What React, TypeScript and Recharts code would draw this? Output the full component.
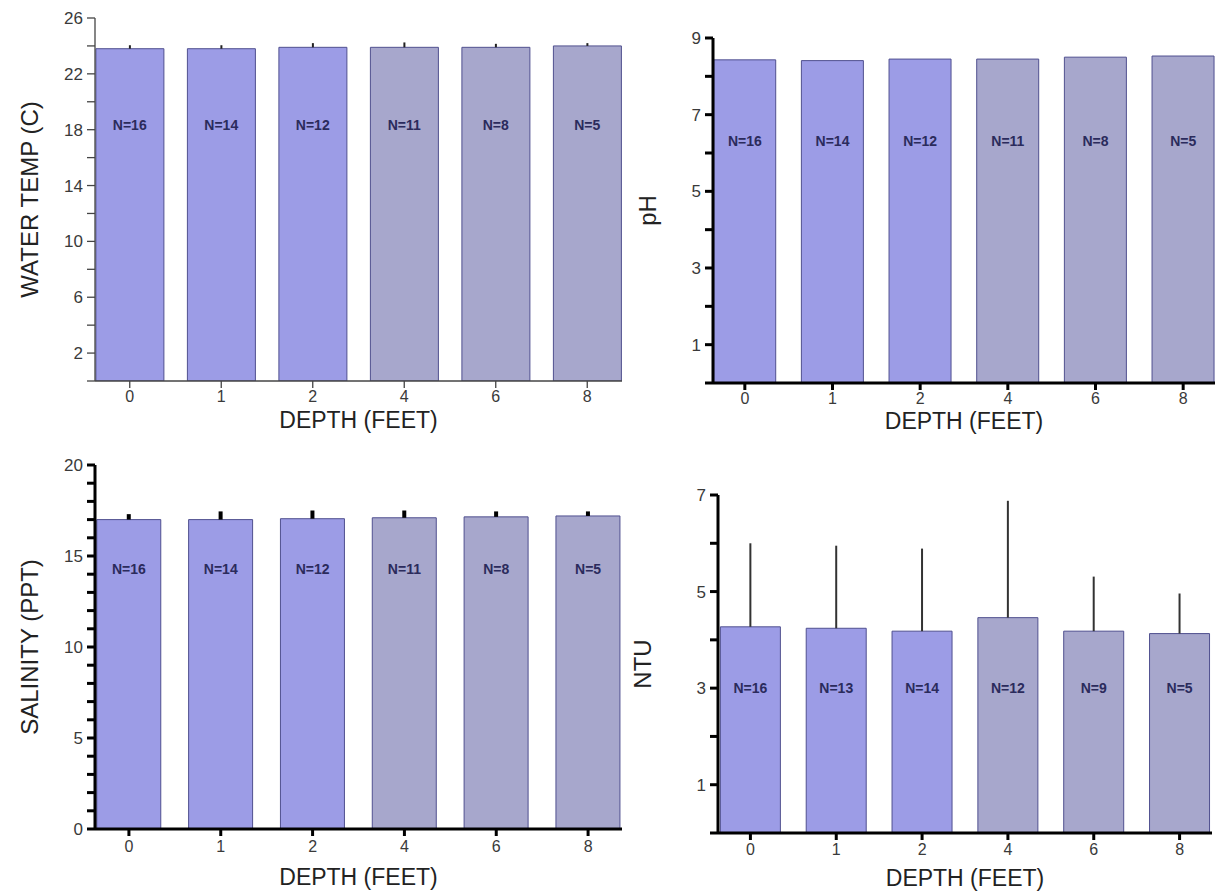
import React from 'react';
import { BarChart, Bar, XAxis, YAxis, Cell, ErrorBar, ReferenceDot, Label } from 'recharts';

const depths = ['0', '1', '2', '4', '6', '8'];

const tempMeans = [23.8, 23.8, 23.9, 23.9, 23.9, 24.0];
const tempErr = [0.25, 0.25, 0.3, 0.35, 0.25, 0.2];
const tempN = [16, 14, 12, 11, 8, 5];
const tempTicks = [0, 2, 4, 6, 8, 10, 12, 14, 16, 18, 20, 22, 24, 26];
const tempLabels = [2, 6, 10, 14, 18, 22, 26];

const phMeans = [8.43, 8.41, 8.45, 8.45, 8.5, 8.53];
const phErr = [0, 0, 0, 0, 0, 0];
const phN = [16, 14, 12, 11, 8, 5];
const phTicks = [0, 1, 2, 3, 4, 5, 6, 7, 8, 9];
const phLabels = [1, 3, 5, 7, 9];

const salMeans = [17.0, 17.0, 17.05, 17.1, 17.15, 17.2];
const salErr = [0.3, 0.45, 0.45, 0.4, 0.3, 0.25];
const salN = [16, 14, 12, 11, 8, 5];
const salTicks = [0, 1, 2, 3, 4, 5, 6, 7, 8, 9, 10, 11, 12, 13, 14, 15, 16, 17, 18, 19, 20];
const salLabels = [0, 5, 10, 15, 20];

const ntuMeans = [4.27, 4.24, 4.18, 4.46, 4.18, 4.13];
const ntuErr = [1.73, 1.71, 1.71, 2.42, 1.13, 0.83];
const ntuN = [16, 13, 14, 12, 9, 5];
const ntuTicks = [0, 1, 2, 3, 4, 5, 6, 7];
const ntuLabels = [1, 3, 5, 7];

const barColors = ['#9c9ce6', '#9c9ce6', '#9c9ce6', '#a7a7cc', '#a7a7cc', '#a7a7cc'];
const font = '"Liberation Sans", Arial, sans-serif';

const makeRows = (means: number[], errs: number[], ns: number[]) =>
  depths.map((d, i) => ({ depth: d, mean: means[i], err: [0, errs[i]], n: ns[i] }));

type PanelProps = {
  left: number; top: number; width: number; height: number;
  margin: { top: number; right: number; bottom: number; left: number };
  yWidth: number; xHeight: number;
  domain: [number, number]; ticks: number[]; labels: number[];
  means: number[]; errs: number[]; ns: number[]; nY: number;
  pad: number; gap: string;
  axisColor: string; axisWidth: number;
  errColor: string; errWidth: number; showErr: boolean;
  yTitle: string; yTitleX: number;
  tickDy: number; xTitleDy: number;
};

function Panel(p: PanelProps) {
  const rows = makeRows(p.means, p.errs, p.ns);
  const yTick = (t: any) =>
    p.labels.includes(t.payload.value) ? (
      <text x={t.x} y={t.y} dy={6} textAnchor="end" fontSize={17} fill="#3a3a3a" fontFamily={font}>
        {t.payload.value}
      </text>
    ) : <g />;
  const xTick = (t: any) => (
    <text x={t.x} y={t.y} dy={p.tickDy} textAnchor="middle" fontSize={16} fill="#3a3a3a" fontFamily={font}>
      {t.payload.value}
    </text>
  );
  return (
    <div style={{ position: 'absolute', left: p.left, top: p.top }}>
      <BarChart width={p.width} height={p.height} data={rows} margin={p.margin} barCategoryGap={p.gap}>
        <XAxis
          dataKey="depth"
          height={p.xHeight}
          padding={{ left: -p.pad, right: -p.pad }}
          axisLine={{ stroke: p.axisColor, strokeWidth: p.axisWidth }}
          tickLine={{ stroke: p.axisColor, strokeWidth: p.axisWidth }}
          tickSize={7}
          tickMargin={2}
          tick={xTick}
          interval={0}
        >
          <Label
            content={(lp: any) => (
              <text x={lp.viewBox.x + lp.viewBox.width / 2} y={lp.viewBox.y + p.xTitleDy} textAnchor="middle"
                fontSize={23} fill="#222" fontFamily={font}>DEPTH (FEET)</text>
            )}
          />
        </XAxis>
        <YAxis
          type="number"
          domain={p.domain}
          ticks={p.ticks}
          width={p.yWidth}
          allowDataOverflow
          axisLine={{ stroke: p.axisColor, strokeWidth: p.axisWidth }}
          tickLine={{ stroke: p.axisColor, strokeWidth: p.axisWidth }}
          tickSize={8}
          tickMargin={4}
          tick={yTick}
          interval={0}
        >
          <Label
            content={(lp: any) => {
              const cy = lp.viewBox.y + lp.viewBox.height / 2;
              return (
                <text x={p.yTitleX} y={cy} textAnchor="middle" fontSize={24} fill="#222" fontFamily={font}
                  transform={`rotate(-90 ${p.yTitleX} ${cy})`} dy={8}>{p.yTitle}</text>
              );
            }}
          />
        </YAxis>
        <Bar dataKey="mean" stroke="#50508f" strokeWidth={1} isAnimationActive={false}>
          {rows.map((r, i) => <Cell key={r.depth} fill={barColors[i]} />)}
          {p.showErr && (
            <ErrorBar dataKey="err" direction="y" width={0} stroke={p.errColor} strokeWidth={p.errWidth} />
          )}
        </Bar>
        {rows.map(r => (
          <ReferenceDot key={r.depth} x={r.depth} y={p.nY} r={0} fill="none" stroke="none"
            label={{ value: `N=${r.n}`, position: 'center', fill: '#2b2b5c', fontSize: 14, fontWeight: 600, fontFamily: font }} />
        ))}
      </BarChart>
    </div>
  );
}

export default function App() {
  return (
    <div style={{ position: 'absolute', left: 0, top: 0, width: 1225, height: 892, background: '#fff' }}>
      <Panel left={0} top={0} width={640} height={450}
        margin={{ top: 18, right: 18, bottom: 9, left: 0 }} yWidth={95} xHeight={60}
        domain={[0, 26]} ticks={tempTicks} labels={tempLabels}
        means={tempMeans} errs={tempErr} ns={tempN} nY={18.3}
        pad={11} gap="13%" axisColor="#444" axisWidth={1.3}
        errColor="#222" errWidth={2} showErr
        yTitle="WATER TEMP (C)" yTitleX={30} tickDy={12} xTitleDy={47} />
      <Panel left={612} top={0} width={613} height={450}
        margin={{ top: 38, right: 10, bottom: 7, left: 0 }} yWidth={101} xHeight={60}
        domain={[0, 9]} ticks={phTicks} labels={phLabels}
        means={phMeans} errs={phErr} ns={phN} nY={6.3}
        pad={12} gap="14.5%" axisColor="#000" axisWidth={3}
        errColor="#222" errWidth={2} showErr={false}
        yTitle="pH" yTitleX={36} tickDy={12} xTitleDy={46} />
      <Panel left={0} top={446} width={640} height={446}
        margin={{ top: 19, right: 18, bottom: 3, left: 0 }} yWidth={95} xHeight={60}
        domain={[0, 20]} ticks={salTicks} labels={salLabels}
        means={salMeans} errs={salErr} ns={salN} nY={14.3}
        pad={12} gap="15%" axisColor="#000" axisWidth={3}
        errColor="#000" errWidth={4} showErr
        yTitle="SALINITY (PPT)" yTitleX={30} tickDy={14} xTitleDy={56} />
      <Panel left={612} top={446} width={613} height={446}
        margin={{ top: 49, right: 13, bottom: 4, left: 0 }} yWidth={106} xHeight={55}
        domain={[0, 7]} ticks={ntuTicks} labels={ntuLabels}
        means={ntuMeans} errs={ntuErr} ns={ntuN} nY={3.0}
        pad={10.5} gap="15%" axisColor="#000" axisWidth={3}
        errColor="#333" errWidth={2} showErr
        yTitle="NTU" yTitleX={31} tickDy={13} xTitleDy={53} />
    </div>
  );
}
